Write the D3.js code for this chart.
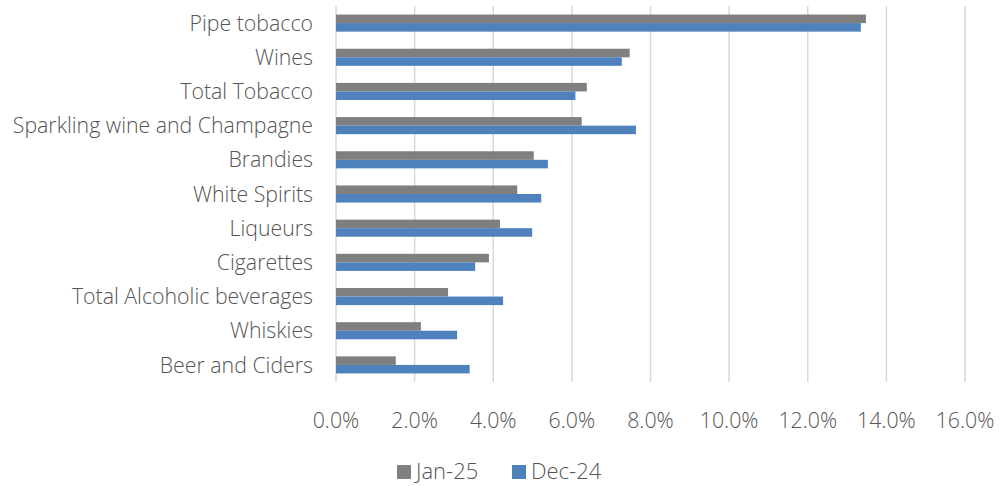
<!DOCTYPE html>
<html>
<head>
<script src="https://d3js.org/d3.v7.min.js"></script>
<style>
  body { margin: 0; background: #fff; }
  text { font-family: 'Open Sans', sans-serif; font-weight: 300; fill: #555; font-size: 21.3px; }
  .legend text { font-size: 22px; }
</style>
</head>
<body>
<div id="chart"></div>
<script>
// categories top to bottom
var categories = ["Pipe tobacco", "Wines", "Total Tobacco", "Sparkling wine and Champagne",
  "Brandies", "White Spirits", "Liqueurs", "Cigarettes", "Total Alcoholic beverages",
  "Whiskies", "Beer and Ciders"];
var seriesNames = ["Jan-25", "Dec-24"];
var jan25 = [13.48, 7.47, 6.38, 6.25, 5.03, 4.61, 4.17, 3.89, 2.85, 2.16, 1.52];
var dec24 = [13.35, 7.27, 6.09, 7.63, 5.39, 5.22, 4.99, 3.54, 4.25, 3.08, 3.40];
var xTicks = [0, 2, 4, 6, 8, 10, 12, 14, 16];
var colors = ["#7f7f7f", "#4f81bd"];

var W = 1003, H = 486;
var margin = {top: 6, right: 38, bottom: 104, left: 336};

var svg = d3.select("#chart").append("svg")
  .attr("width", W).attr("height", H);

var x = d3.scaleLinear().domain([0, 16]).range([margin.left, W - margin.right]);
var y = d3.scaleBand().domain(categories).range([margin.top, H - margin.bottom]).paddingInner(0.5).paddingOuter(0.25);
var sub = d3.scaleBand().domain(seriesNames).range([0, y.bandwidth()]);

// gridlines
svg.append("g").selectAll("line").data(xTicks).enter().append("line")
  .attr("x1", function(d) { return x(d); }).attr("x2", function(d) { return x(d); })
  .attr("y1", margin.top).attr("y2", H - margin.bottom)
  .attr("stroke", "#d9d9d9").attr("stroke-width", 1.5);

var rows = categories.map(function(c, i) {
  return [{cat: c, s: seriesNames[0], v: jan25[i]}, {cat: c, s: seriesNames[1], v: dec24[i]}];
});

svg.append("g").selectAll("g").data(rows).enter().append("g")
  .attr("transform", function(d) { return "translate(0," + y(d[0].cat) + ")"; })
  .selectAll("rect").data(function(d) { return d; }).enter().append("rect")
  .attr("x", x(0))
  .attr("y", function(d) { return sub(d.s); })
  .attr("width", function(d) { return x(d.v) - x(0); })
  .attr("height", sub.bandwidth())
  .attr("fill", function(d, i) { return colors[i]; });

// x tick labels
svg.append("g").selectAll("text").data(xTicks).enter().append("text")
  .attr("x", function(d) { return x(d); })
  .attr("y", 428)
  .attr("text-anchor", "middle")
  .text(function(d) { return d.toFixed(1) + "%"; });

// y labels
svg.append("g").selectAll("text").data(categories).enter().append("text")
  .attr("x", 313)
  .attr("y", function(d) { return y(d) + y.bandwidth() / 2; })
  .attr("dy", "0.36em")
  .attr("text-anchor", "end")
  .text(function(d) { return d; });

// legend
var legendX = [397, 512];
var lg = svg.append("g").attr("class", "legend").selectAll("g").data(seriesNames).enter().append("g")
  .attr("transform", function(d, i) { return "translate(" + legendX[i] + ",465)"; });
lg.append("rect").attr("width", 14).attr("height", 14)
  .attr("fill", function(d, i) { return colors[i]; });
lg.append("text").attr("x", 19).attr("y", 14)
  .text(function(d) { return d; });
</script>
</body>
</html>
